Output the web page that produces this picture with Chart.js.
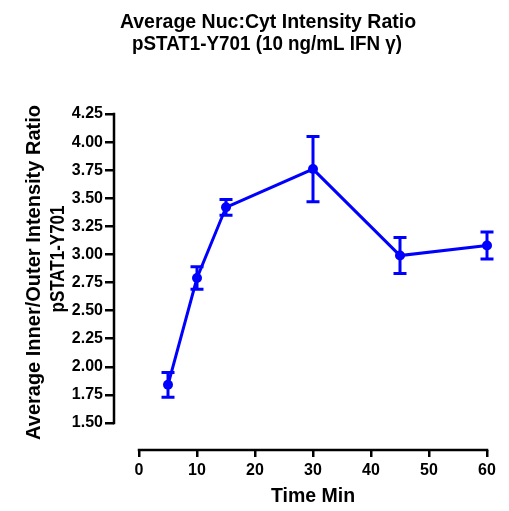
<!DOCTYPE html>
<html>
<head>
<meta charset="utf-8">
<script src="https://cdn.jsdelivr.net/npm/chart.js@4/dist/chart.umd.min.js"></script>
<style>
  html, body { margin: 0; padding: 0; background: #fff; }
  #c { display: block; }
</style>
</head>
<body>
<canvas id="c" width="509" height="511"></canvas>
<script>
// ---- data ----
const times = [5, 10, 15, 30, 45, 60];
const means = [1.84, 2.79, 3.42, 3.76, 2.99, 3.08];
const errors = [0.11, 0.10, 0.07, 0.29, 0.16, 0.12];
const xTicks = [0, 10, 20, 30, 40, 50, 60];
const yTicks = [1.50, 1.75, 2.00, 2.25, 2.50, 2.75, 3.00, 3.25, 3.50, 3.75, 4.00, 4.25];
const titleLines = ['Average Nuc:Cyt Intensity Ratio', 'pSTAT1-Y701 (10 ng/mL IFN γ)'];
const yTitleLines = ['Average Inner/Outer Intensity Ratio', 'pSTAT1-Y701'];
const xTitle = 'Time Min';

const BLUE = '#0000FF';
const TITLE_FONT = 'bold 19.5px "Liberation Sans", Arial, sans-serif';
const TICK_FONT = { family: '"Liberation Sans", Arial, sans-serif', size: 16, weight: 'bold' };

const errorBars = {
  id: 'errorBars',
  afterDatasetsDraw(chart) {
    const { ctx, scales: { x, y } } = chart;
    ctx.save();
    ctx.strokeStyle = BLUE;
    ctx.lineWidth = 3;
    const cap = 6.5;
    times.forEach((t, i) => {
      const px = x.getPixelForValue(t);
      const top = y.getPixelForValue(means[i] + errors[i]);
      const bot = y.getPixelForValue(means[i] - errors[i]);
      ctx.beginPath();
      ctx.moveTo(px, top); ctx.lineTo(px, bot);
      ctx.moveTo(px - cap, top); ctx.lineTo(px + cap, top);
      ctx.moveTo(px - cap, bot); ctx.lineTo(px + cap, bot);
      ctx.stroke();
    });
    ctx.restore();
  }
};

const axesAndTitles = {
  id: 'axesAndTitles',
  afterDraw(chart) {
    const { ctx, chartArea, scales: { x, y } } = chart;
    ctx.save();
    // offset axis lines spanning only the tick range
    ctx.strokeStyle = '#000';
    ctx.lineWidth = 2.5;
    ctx.lineCap = 'butt';
    ctx.beginPath();
    ctx.moveTo(chartArea.left, y.getPixelForValue(yTicks[yTicks.length - 1]) - 1.25);
    ctx.lineTo(chartArea.left, y.getPixelForValue(yTicks[0]) + 1.25);
    ctx.moveTo(x.getPixelForValue(xTicks[0]) - 1.25, chartArea.bottom);
    ctx.lineTo(x.getPixelForValue(xTicks[xTicks.length - 1]) + 1.25, chartArea.bottom);
    ctx.stroke();

    // titles
    ctx.fillStyle = '#000';
    ctx.font = TITLE_FONT;
    ctx.textAlign = 'center';
    ctx.textBaseline = 'alphabetic';
    ctx.fillText(titleLines[0], 268, 28);
    ctx.fillText(titleLines[1], 267, 49.5, 270);

    ctx.fillText(xTitle, (x.getPixelForValue(0) + x.getPixelForValue(60)) / 2, 501.5);

    ctx.font = 'bold 20px "Liberation Sans", Arial, sans-serif';
    ctx.save();
    ctx.translate(40, 272.5);
    ctx.rotate(-Math.PI / 2);
    ctx.fillText(yTitleLines[0], 0, 0);
    ctx.restore();
    ctx.save();
    ctx.translate(63.5, 259);
    ctx.rotate(-Math.PI / 2);
    ctx.fillText(yTitleLines[1], 0, 0, 107);
    ctx.restore();
    ctx.restore();
  }
};

new Chart(document.getElementById('c'), {
  type: 'line',
  data: {
    datasets: [{
      data: times.map((t, i) => ({ x: t, y: means[i] })),
      borderColor: BLUE,
      backgroundColor: BLUE,
      borderWidth: 3,
      pointRadius: 5,
      pointBackgroundColor: BLUE,
      pointBorderColor: BLUE,
      pointBorderWidth: 0,
      tension: 0,
      fill: false
    }]
  },
  options: {
    responsive: false,
    animation: false,
    devicePixelRatio: 1,
    layout: { padding: { top: 100, left: 0, right: 12, bottom: 0 } },
    plugins: { legend: { display: false }, tooltip: { enabled: false }, title: { display: false } },
    scales: {
      x: {
        type: 'linear',
        min: -25 / 5.8,
        max: -25 / 5.8 + 383 / 5.8,
        afterBuildTicks: s => { s.ticks = xTicks.map(v => ({ value: v })); },
        afterFit: s => { s.height = 61; },
        border: { display: false },
        grid: { display: true, drawOnChartArea: false, drawTicks: true, tickLength: 7, lineWidth: 2.5, color: '#000' },
        ticks: { font: TICK_FONT, color: '#000', padding: 4, maxRotation: 0, autoSkip: false, callback: v => String(v) }
      },
      y: {
        type: 'linear',
        min: 1.50 - 27 / 112.36,
        max: 1.50 - 27 / 112.36 + 350 / 112.36,
        afterBuildTicks: s => { s.ticks = yTicks.map(v => ({ value: v })); },
        afterFit: s => { s.width = 114; },
        border: { display: false },
        grid: { display: true, drawOnChartArea: false, drawTicks: true, tickLength: 9, lineWidth: 2.5, color: '#000' },
        ticks: { font: TICK_FONT, color: '#000', padding: 2, autoSkip: false, callback: v => Number(v).toFixed(2) }
      }
    }
  },
  plugins: [errorBars, axesAndTitles]
});
</script>
</body>
</html>
